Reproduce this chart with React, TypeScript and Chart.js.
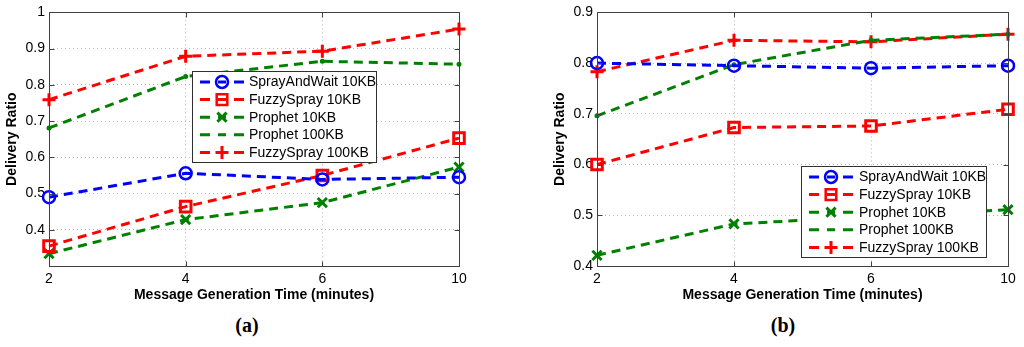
import React, { useEffect, useRef } from 'react';
import { Chart, registerables } from 'chart.js';

Chart.register(...registerables);

const categories = ['2', '4', '6', '10'];
const seriesLabels = ['SprayAndWait 10KB', 'FuzzySpray 10KB', 'Prophet 10KB', 'Prophet 100KB', 'FuzzySpray 100KB'];

// panel (a)
const sprayA = [0.49, 0.556, 0.539, 0.545];
const fuzzy10A = [0.355, 0.464, 0.55, 0.653];
const prophet10A = [0.334, 0.428, 0.475, 0.573];
const prophet100A = [0.681, 0.823, 0.865, 0.857];
const fuzzy100A = [0.759, 0.879, 0.893, 0.954];

// panel (b)
const sprayB = [0.8, 0.795, 0.79, 0.795];
const fuzzy10B = [0.6, 0.673, 0.676, 0.709];
const prophet10B = [0.421, 0.483, 0.497, 0.511];
const prophet100B = [0.696, 0.797, 0.845, 0.857];
const fuzzy100B = [0.783, 0.845, 0.842, 0.857];

const BLUE = '#0000ff';
const RED = '#ff0000';
const GREEN = '#008000';
const FONT = "'Liberation Sans', Arial, Helvetica, sans-serif";

type Style = { color: string; point: string; radius: number; fill: boolean };
const styles: Style[] = [
  { color: BLUE, point: 'circle', radius: 6, fill: false },
  { color: RED, point: 'rect', radius: 7.5, fill: false },
  { color: GREEN, point: 'crossRot', radius: 6.5, fill: false },
  { color: GREEN, point: 'circle', radius: 1, fill: true },
  { color: RED, point: 'cross', radius: 6.5, fill: false },
];

function drawMarker(ctx: CanvasRenderingContext2D, s: Style, x: number, y: number) {
  ctx.save();
  ctx.setLineDash([]);
  ctx.strokeStyle = s.color;
  ctx.fillStyle = s.color;
  ctx.lineWidth = 2.5;
  const r = s.radius;
  ctx.beginPath();
  if (s.point === 'circle') {
    ctx.arc(x, y, r, 0, Math.PI * 2);
    if (s.fill) ctx.fill(); else ctx.stroke();
  } else if (s.point === 'rect') {
    const h = r * Math.SQRT1_2;
    ctx.rect(x - h, y - h, 2 * h, 2 * h);
    ctx.stroke();
  } else if (s.point === 'crossRot') {
    const d = r * Math.SQRT1_2;
    ctx.moveTo(x - d, y - d); ctx.lineTo(x + d, y + d);
    ctx.moveTo(x + d, y - d); ctx.lineTo(x - d, y + d);
    ctx.lineWidth = 3;
    ctx.stroke();
  } else if (s.point === 'cross') {
    ctx.moveTo(x - r, y); ctx.lineTo(x + r, y);
    ctx.moveTo(x, y - r); ctx.lineTo(x, y + r);
    ctx.lineWidth = 3;
    ctx.stroke();
  }
  ctx.restore();
}

const framePlugin = {
  id: 'matlabFrame',
  afterDraw(chart: any, _args: any, opts: any) {
    const { ctx, chartArea: a, scales } = chart;
    ctx.save();
    ctx.setLineDash([]);
    ctx.strokeStyle = '#404040';
    ctx.lineWidth = 1;
    const L = Math.round(a.left) + 0.5, R = Math.round(a.right) + 0.5;
    const T = Math.round(a.top) + 0.5, B = Math.round(a.bottom) + 0.5;
    ctx.beginPath();
    ctx.rect(L, T, R - L, B - T);
    // inward ticks
    const tl = 5;
    scales.x.ticks.forEach((_t: any, i: number) => {
      const px = Math.round(scales.x.getPixelForTick(i)) + 0.5;
      ctx.moveTo(px, B); ctx.lineTo(px, B - tl);
      ctx.moveTo(px, T); ctx.lineTo(px, T + tl);
    });
    scales.y.ticks.forEach((_t: any, i: number) => {
      const py = Math.round(scales.y.getPixelForTick(i)) + 0.5;
      ctx.moveTo(L, py); ctx.lineTo(L + tl, py);
      ctx.moveTo(R, py); ctx.lineTo(R - tl, py);
    });
    ctx.stroke();

    // legend
    const box = opts.box;
    if (box) {
      ctx.fillStyle = '#ffffff';
      ctx.fillRect(box.x, box.y, box.w, box.h);
      ctx.strokeStyle = '#303030';
      ctx.lineWidth = 1;
      ctx.strokeRect(box.x + 0.5, box.y + 0.5, box.w, box.h);
      ctx.font = `14px ${FONT}`;
      ctx.textBaseline = 'middle';
      ctx.textAlign = 'left';
      chart.data.datasets.forEach((ds: any, i: number) => {
        const s = styles[i];
        const y = box.y + box.first + i * box.step;
        ctx.strokeStyle = s.color;
        ctx.lineWidth = 3;
        ctx.setLineDash([]);
        ctx.beginPath();
        ctx.moveTo(box.x + 8, y); ctx.lineTo(box.x + 18, y);
        ctx.moveTo(box.x + 26, y); ctx.lineTo(box.x + 34, y);
        ctx.moveTo(box.x + 42, y); ctx.lineTo(box.x + 52, y);
        ctx.stroke();
        drawMarker(ctx, s, box.x + 30, y);
        ctx.fillStyle = '#000';
        ctx.fillText(ds.label, box.x + box.text, y + 0.5);
      });
    }
    ctx.restore();
  },
};

function makeConfig(series: number[][], yMin: number, yMax: number, hideMin: boolean, box: any, padRight: number) {
  return {
    type: 'line' as const,
    data: {
      labels: categories,
      datasets: series.map((vals, i) => ({
        label: seriesLabels[i],
        data: vals,
        borderColor: styles[i].color,
        backgroundColor: styles[i].fill ? styles[i].color : 'rgba(0,0,0,0)',
        borderWidth: 3,
        borderDash: [9, 6],
        tension: 0,
        fill: false,
        pointStyle: styles[i].point,
        pointRadius: styles[i].radius,
        pointBorderWidth: styles[i].point === 'circle' && !styles[i].fill ? 2.5 : 3,
        pointBorderColor: styles[i].color,
        pointBackgroundColor: styles[i].fill ? styles[i].color : 'rgba(0,0,0,0)',
      })),
    },
    options: {
      responsive: false,
      animation: false as const,
      events: [],
      layout: { padding: { top: 12, right: padRight, bottom: 0, left: 0 } },
      plugins: {
        legend: { display: false },
        tooltip: { enabled: false },
        matlabFrame: { box },
      },
      scales: {
        x: {
          type: 'category' as const,
          offset: false,
          grid: { color: '#b8b8b8', lineWidth: 1, drawTicks: false },
          border: { display: false, dash: [1, 3] },
          ticks: { color: '#000', font: { family: FONT, size: 14 }, padding: 5, maxRotation: 0, autoSkip: false },
          title: {
            display: true,
            text: 'Message Generation Time (minutes)',
            color: '#000',
            font: { family: FONT, size: 14, weight: 'bold' as const },
            padding: { top: 0, bottom: 6.6 },
          },
          afterFit: (scale: any) => { scale.height = 44; },
        },
        y: {
          min: yMin,
          max: yMax,
          grid: { color: '#b8b8b8', lineWidth: 1, drawTicks: false },
          border: { display: false, dash: [1, 3] },
          ticks: {
            stepSize: 0.1,
            color: '#000',
            font: { family: FONT, size: 14 },
            padding: 4,
            callback: (v: any) => {
              const r = Math.round(Number(v) * 10) / 10;
              if (hideMin && Math.abs(r - yMin) < 1e-6) return '';
              return r === 1 ? '1' : r.toFixed(1);
            },
          },
          title: {
            display: true,
            text: 'Delivery Ratio',
            color: '#000',
            font: { family: FONT, size: 14, weight: 'bold' as const },
            padding: { top: 3.6, bottom: 0 },
          },
          afterFit: (scale: any) => { scale.width = 49; },
        },
      },
    },
    plugins: [framePlugin],
  };
}

function Panel(props: { left: number; width: number; config: any }) {
  const ref = useRef<HTMLCanvasElement | null>(null);
  useEffect(() => {
    if (!ref.current) return;
    const chart = new Chart(ref.current, props.config);
    return () => chart.destroy();
  }, []);
  return (
    <canvas
      ref={ref}
      width={props.width}
      height={310}
      style={{ position: 'absolute', left: props.left, top: 0, width: props.width, height: 310 }}
    />
  );
}

export default function App() {
  const cfgA = makeConfig([sprayA, fuzzy10A, prophet10A, prophet100A, fuzzy100A], 0.3, 1.0, true,
    { x: 192, y: 71, w: 184, h: 91, first: 11, step: 17.6, text: 57 }, 53);
  const cfgB = makeConfig([sprayB, fuzzy10B, prophet10B, prophet100B, fuzzy100B], 0.4, 0.9, false,
    { x: 253, y: 166, w: 185, h: 91, first: 11, step: 17.6, text: 58 }, 16);
  const cap: React.CSSProperties = {
    position: 'absolute', top: 311, width: 60, textAlign: 'center',
    fontFamily: "'Liberation Serif', 'DejaVu Serif', serif", fontWeight: 'bold', fontSize: 20, lineHeight: '28px', color: '#000',
  };
  return (
    <div style={{ position: 'fixed', left: 0, top: 0, width: 1024, height: 347, background: '#fff', overflow: 'hidden' }}>
      <Panel left={0} width={512} config={cfgA} />
      <Panel left={548} width={476} config={cfgB} />
      <div style={{ ...cap, left: 247 - 30 }}>(a)</div>
      <div style={{ ...cap, left: 783 - 30 }}>(b)</div>
    </div>
  );
}
